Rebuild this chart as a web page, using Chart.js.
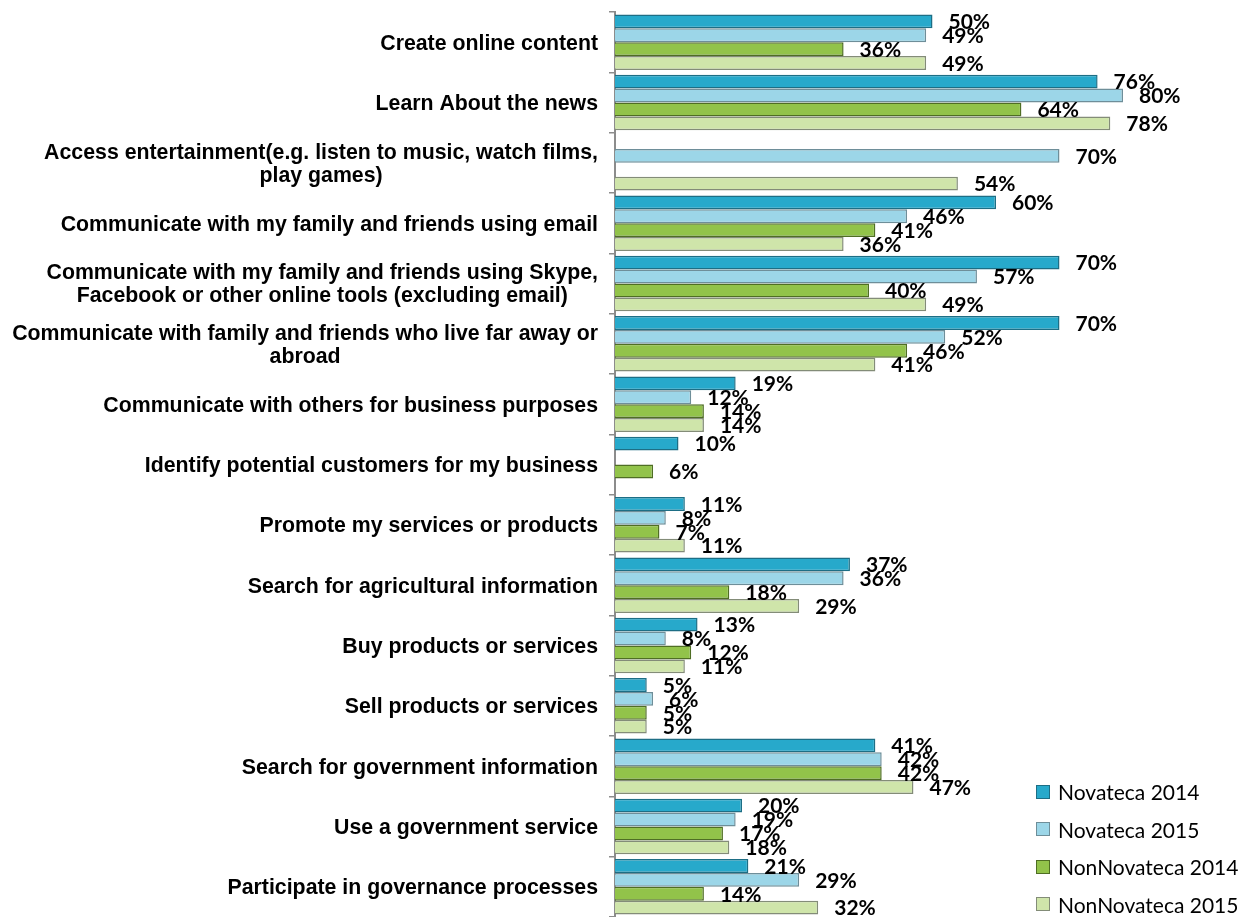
<!DOCTYPE html>
<html>
<head>
<meta charset="utf-8">
<script src="https://cdn.jsdelivr.net/npm/chart.js@4/dist/chart.umd.min.js"></script>
<style>
    html, body { margin: 0; padding: 0; background: #fff; overflow: hidden; }
    #wrap { position: relative; width: 1253px; height: 917px; }
    #legend { position: absolute; left: 1036px; top: 773px; font-family: Lato, 'Open Sans', sans-serif; font-size: 21px; color: #000; }
    .item { height: 37.5px; display: flex; align-items: center; }
    .box { width: 12px; height: 12px; margin-right: 8px; border: 1.5px solid; }
</style>
</head>
<body>
<div id="wrap">
    <canvas id="usageChart" width="1253" height="917"></canvas>
    <div id="legend"></div>
</div>
<script>
// category labels (multi-line ones are split where the original wraps)
const categories = [
    'Create online content',
    'Learn About the news',
    ['Access entertainment(e.g. listen to music, watch films,', 'play games)'],
    'Communicate with my family and friends using email',
    ['Communicate with my family and friends using Skype,', 'Facebook or other online tools (excluding email)'],
    ['Communicate with family and friends who live far away or', 'abroad'],
    'Communicate with others for business purposes',
    'Identify potential customers for my business',
    'Promote my services or products',
    'Search for agricultural information',
    'Buy products or services',
    'Sell products or services',
    'Search for government information',
    'Use a government service',
    'Participate in governance processes'
];

const seriesNames = ['Novateca 2014', 'Novateca 2015', 'NonNovateca 2014', 'NonNovateca 2015'];

// percentages, null = no bar shown
const novateca2014    = [50, 76, null, 60, 70, 70, 19, 10, 11, 37, 13, 5, 41, 20, 21];
const novateca2015    = [49, 80, 70, 46, 57, 52, 12, null, 8, 36, 8, 6, 42, 19, 29];
const nonNovateca2014 = [36, 64, null, 41, 40, 46, 14, 6, 7, 18, 12, 5, 42, 17, 14];
const nonNovateca2015 = [49, 78, 54, 36, 49, 41, 14, null, 11, 29, 11, 5, 47, 18, 32];

const fills   = ['#27A9CB', '#9CD6E8', '#92C34A', '#CFE5AA'];
const borders = ['#1D6E85', '#6E8E99', '#4F6E24', '#838C78'];

const seriesValues = [novateca2014, novateca2015, nonNovateca2014, nonNovateca2015];

// Draws the "NN%" labels past the end of each bar
const valueLabels = {
    id: 'valueLabels',
    afterDatasetsDraw(chart) {
        const ctx = chart.ctx;
        ctx.save();
        ctx.font = 'bold 21px Lato, "Open Sans", sans-serif';
        ctx.fillStyle = '#000';
        ctx.textAlign = 'left';
        ctx.textBaseline = 'middle';
        chart.data.datasets.forEach((ds, i) => {
            const meta = chart.getDatasetMeta(i);
            meta.data.forEach((bar, j) => {
                const v = ds.data[j];
                if (v === null || v === undefined) return;
                ctx.fillText(v + '%', bar.x + 16, bar.y + 1);
            });
        });
        ctx.restore();
    }
};

// Category labels: block right aligned, wrapped lines centred like the original
const categoryLabels = {
    id: 'categoryLabels',
    afterDraw(chart) {
        const ctx = chart.ctx;
        const yScale = chart.scales.y;
        const right = yScale.right - 17;
        const lineH = 23;
        ctx.save();
        ctx.font = 'bold 21.3px "Liberation Sans", Arial, sans-serif';
        ctx.fillStyle = '#000';
        ctx.textAlign = 'center';
        ctx.textBaseline = 'middle';
        categories.forEach((label, i) => {
            const lines = Array.isArray(label) ? label : [label];
            const maxW = Math.max(...lines.map(l => ctx.measureText(l).width));
            const cx = right - maxW / 2;
            const cy = yScale.getPixelForValue(i);
            lines.forEach((l, k) => {
                ctx.fillText(l, cx, cy + 1.5 + (k - (lines.length - 1) / 2) * lineH);
            });
        });
        ctx.restore();
    }
};

const ctx = document.getElementById('usageChart').getContext('2d');
new Chart(ctx, {
    type: 'bar',
    data: {
        labels: categories,
        datasets: seriesValues.map((vals, i) => ({
            label: seriesNames[i],
            data: vals,
            backgroundColor: fills[i],
            borderColor: borders[i],
            borderWidth: 1.5,
            categoryPercentage: 0.92,
            barPercentage: 1.0
        }))
    },
    options: {
        indexAxis: 'y',
        responsive: false,
        animation: false,
        layout: { padding: { top: 12, right: 3, bottom: 0, left: 0 } },
        scales: {
            x: {
                display: false,
                min: 0,
                max: 100
            },
            y: {
                afterFit(scale) { scale.width = 615; },
                grid: {
                    offset: true,
                    drawOnChartArea: false,
                    drawTicks: true,
                    tickLength: 6,
                    color: '#8c8c8c',
                    lineWidth: 1.5
                },
                border: { display: true, color: '#8c8c8c', width: 2 },
                ticks: { display: false }
            }
        },
        plugins: {
            legend: { display: false },
            tooltip: { enabled: false }
        }
    },
    plugins: [valueLabels, categoryLabels]
});

// simple html legend in the lower right corner
const legendEl = document.getElementById('legend');
seriesNames.forEach((name, i) => {
    const row = document.createElement('div');
    row.className = 'item';
    row.innerHTML = `<span class="box" style="background:${fills[i]};border-color:${borders[i]}"></span>${name}`;
    legendEl.appendChild(row);
});
</script>
</body>
</html>
